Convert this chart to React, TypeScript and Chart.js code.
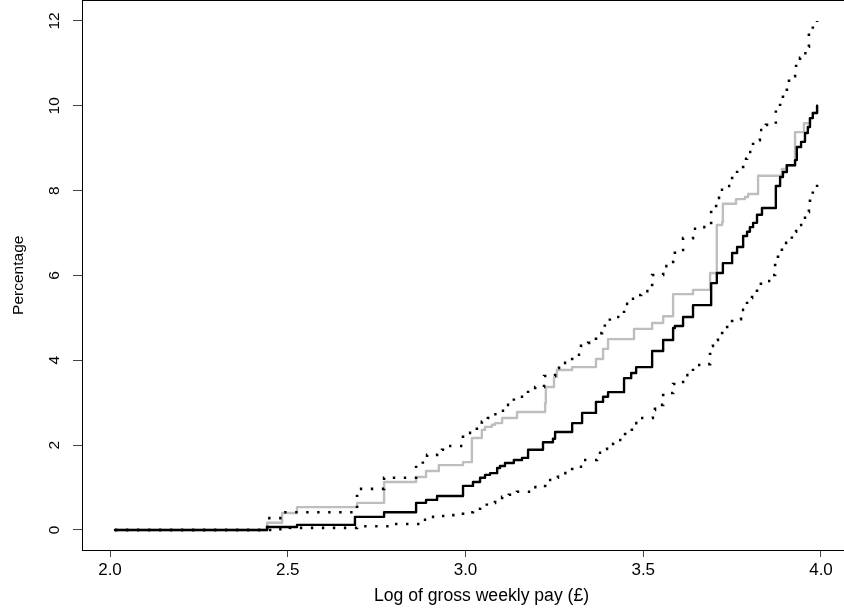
import React, { useEffect, useRef } from "react";
import { Chart, registerables } from "chart.js";

Chart.register(...registerables);

// Axis ticks
const xTicks = [2.0, 2.5, 3.0, 3.5, 4.0];
const yTicks = [0, 2, 4, 6, 8, 10, 12];

// Main estimate (black step line): x where the step occurs, y after the step
const estimateX = [2.014, 2.442, 2.526, 2.689, 2.771, 2.861, 2.889, 2.92, 2.993, 3.021, 3.041, 3.055, 3.069, 3.089, 3.097, 3.111, 3.136, 3.159, 3.176, 3.218, 3.246, 3.252, 3.3, 3.328, 3.367, 3.387, 3.401, 3.446, 3.466, 3.48, 3.525, 3.556, 3.584, 3.589, 3.612, 3.64, 3.691, 3.707, 3.724, 3.75, 3.764, 3.781, 3.792, 3.8, 3.809, 3.82, 3.834, 3.873, 3.885, 3.893, 3.904, 3.927, 3.932, 3.944, 3.955, 3.963, 3.969, 3.977, 3.989];
const estimateY = [0, 0.07, 0.12, 0.31, 0.42, 0.64, 0.71, 0.8, 1.04, 1.13, 1.23, 1.3, 1.34, 1.46, 1.51, 1.58, 1.65, 1.7, 1.89, 2.07, 2.15, 2.31, 2.52, 2.76, 3.02, 3.14, 3.25, 3.58, 3.7, 3.84, 4.22, 4.48, 4.76, 4.81, 5.02, 5.3, 5.82, 6.06, 6.29, 6.53, 6.67, 6.93, 7.03, 7.14, 7.24, 7.43, 7.59, 8.11, 8.32, 8.44, 8.6, 8.72, 9.03, 9.15, 9.36, 9.5, 9.71, 9.83, 10.0];

// Comparison series (grey step line)
const compareX = [2.014, 2.442, 2.484, 2.526, 2.695, 2.771, 2.861, 2.889, 2.925, 2.993, 3.018, 3.046, 3.055, 3.074, 3.083, 3.103, 3.145, 3.224, 3.226, 3.249, 3.257, 3.3, 3.367, 3.387, 3.401, 3.474, 3.525, 3.556, 3.584, 3.64, 3.688, 3.707, 3.722, 3.724, 3.761, 3.786, 3.795, 3.823, 3.89, 3.902, 3.927, 3.952, 3.969, 3.977, 3.989];
const compareY = [0, 0.17, 0.4, 0.54, 0.64, 1.13, 1.25, 1.39, 1.53, 1.6, 2.17, 2.36, 2.43, 2.48, 2.52, 2.64, 2.78, 2.99, 3.37, 3.61, 3.77, 3.84, 4.03, 4.27, 4.5, 4.74, 4.88, 5.04, 5.56, 5.66, 6.06, 7.19, 7.26, 7.69, 7.8, 7.85, 7.92, 8.35, 8.51, 8.6, 9.38, 9.59, 9.71, 9.83, 10.0];

// Upper confidence band (dotted)
const upperX = [2.014, 2.442, 2.487, 2.695, 2.771, 2.861, 2.88, 2.892, 2.92, 2.934, 2.951, 2.993, 3.032, 3.046, 3.063, 3.08, 3.097, 3.111, 3.136, 3.176, 3.196, 3.221, 3.252, 3.263, 3.3, 3.325, 3.345, 3.367, 3.384, 3.392, 3.406, 3.446, 3.463, 3.477, 3.494, 3.525, 3.556, 3.575, 3.584, 3.589, 3.612, 3.64, 3.662, 3.691, 3.705, 3.713, 3.727, 3.75, 3.764, 3.781, 3.792, 3.809, 3.828, 3.845, 3.873, 3.885, 3.893, 3.904, 3.91, 3.927, 3.93, 3.941, 3.949, 3.961, 3.966, 3.977, 3.989];
const upperY = [0, 0.28, 0.42, 0.97, 1.23, 1.53, 1.63, 1.77, 1.82, 1.89, 1.98, 2.29, 2.43, 2.55, 2.64, 2.73, 2.81, 2.95, 3.14, 3.3, 3.37, 3.63, 3.82, 3.94, 4.13, 4.34, 4.41, 4.64, 4.76, 4.88, 5.02, 5.33, 5.45, 5.54, 5.63, 6.01, 6.22, 6.32, 6.44, 6.6, 6.88, 7.1, 7.14, 7.57, 7.83, 8.02, 8.11, 8.37, 8.51, 8.75, 8.91, 9.19, 9.43, 9.55, 9.97, 10.11, 10.28, 10.54, 10.7, 10.8, 11.01, 11.13, 11.24, 11.39, 11.74, 11.88, 12.0];

// Lower confidence band (dotted)
const lowerX = [2.014, 2.473, 2.506, 2.695, 2.796, 2.872, 2.897, 2.923, 2.951, 2.993, 3.021, 3.041, 3.06, 3.083, 3.103, 3.122, 3.145, 3.187, 3.224, 3.246, 3.26, 3.3, 3.33, 3.37, 3.387, 3.398, 3.415, 3.449, 3.468, 3.477, 3.491, 3.527, 3.533, 3.556, 3.584, 3.606, 3.612, 3.64, 3.665, 3.688, 3.696, 3.71, 3.722, 3.736, 3.75, 3.775, 3.792, 3.806, 3.82, 3.831, 3.862, 3.871, 3.879, 3.89, 3.902, 3.918, 3.93, 3.944, 3.955, 3.966, 3.969, 3.977, 3.989];
const lowerY = [0, 0.02, 0.05, 0.09, 0.14, 0.24, 0.31, 0.33, 0.35, 0.42, 0.5, 0.54, 0.64, 0.66, 0.78, 0.83, 0.9, 1.01, 1.18, 1.23, 1.34, 1.49, 1.65, 1.82, 1.91, 2.03, 2.12, 2.31, 2.4, 2.52, 2.64, 2.83, 2.95, 3.23, 3.44, 3.49, 3.65, 3.89, 3.91, 4.34, 4.48, 4.6, 4.71, 4.83, 4.97, 5.19, 5.47, 5.59, 5.7, 5.87, 6.01, 6.34, 6.53, 6.67, 6.77, 7.03, 7.19, 7.36, 7.5, 7.71, 7.9, 8.06, 8.18];

const zip = (xs: number[], ys: number[]) => xs.map((x, i) => ({ x, y: ys[i] }));

const FONT = "'Liberation Sans', Arial, Helvetica, sans-serif";

const framePlugin = {
  id: "frame",
  afterDraw(chart: any) {
    const { ctx, chartArea: a } = chart;
    ctx.save();
    ctx.strokeStyle = "#000";
    ctx.lineWidth = 1;
    const l = Math.floor(a.left) + 0.5;
    const t = Math.floor(a.top) + 0.5;
    const r = Math.floor(a.right) + 0.5;
    const b = Math.floor(a.bottom) + 0.5;
    ctx.strokeRect(l, t, r - l, b - t);
    ctx.restore();
  },
};

export default function App() {
  const ref = useRef<HTMLCanvasElement | null>(null);

  useEffect(() => {
    if (!ref.current) return;
    const chart = new Chart(ref.current, {
      type: "line",
      data: {
        datasets: [
          {
            label: "Comparison",
            data: zip(compareX, compareY),
            borderColor: "#bebebe",
            borderWidth: 2.4,
            stepped: "before",
            pointRadius: 0,
            borderCapStyle: "round",
            borderJoinStyle: "round",
            order: 3,
          },
          {
            label: "Estimate",
            data: zip(estimateX, estimateY),
            borderColor: "#000",
            borderWidth: 2.4,
            stepped: "before",
            pointRadius: 0,
            borderCapStyle: "round",
            borderJoinStyle: "round",
            order: 2,
          },
          {
            label: "Upper",
            data: zip(upperX, upperY),
            borderColor: "#000",
            borderWidth: 2.6,
            borderDash: [2.4, 8.6],
            stepped: "before",
            pointRadius: 0,
            order: 1,
          },
          {
            label: "Lower",
            data: zip(lowerX, lowerY),
            borderColor: "#000",
            borderWidth: 2.6,
            borderDash: [2.4, 8.6],
            stepped: "before",
            pointRadius: 0,
            order: 1,
          },
        ],
      },
      options: {
        animation: false,
        responsive: false,
        maintainAspectRatio: false,
        devicePixelRatio: 1,
        layout: { padding: { top: 0.5, right: 3, bottom: 0, left: 0 } },
        plugins: {
          legend: { display: false },
          tooltip: { enabled: false },
        },
        scales: {
          x: {
            type: "linear",
            min: 1.9212,
            max: 4.1688,
            afterBuildTicks: (s: any) => {
              s.ticks = xTicks.map((v) => ({ value: v }));
            },
            afterFit: (s: any) => {
              s.height = 59;
              s.paddingLeft = 0;
              s.paddingRight = 0;
            },
            border: { display: false },
            grid: {
              drawOnChartArea: false,
              drawTicks: true,
              tickLength: 7,
              tickColor: "#444",
              lineWidth: 1,
            },
            ticks: {
              padding: 3,
              color: "#000",
              maxRotation: 0,
              minRotation: 0,
              font: { family: FONT, size: 17 },
              callback: (v: any) => Number(v).toFixed(1),
            },
            title: {
              display: true,
              text: "Log of gross weekly pay (£)",
              color: "#000",
              font: { family: FONT, size: 17.6 },
              padding: { top: 0, bottom: 2 },
            },
          },
          y: {
            type: "linear",
            min: -0.4715,
            max: 12.482,
            afterBuildTicks: (s: any) => {
              s.ticks = yTicks.map((v) => ({ value: v }));
            },
            afterFit: (s: any) => {
              s.width = 82;
              s.paddingTop = 0;
              s.paddingBottom = 0;
            },
            border: { display: false },
            grid: {
              drawOnChartArea: false,
              drawTicks: true,
              tickLength: 9,
              tickColor: "#444",
              lineWidth: 1,
            },
            ticks: {
              padding: 10,
              color: "#000",
              minRotation: 90,
              maxRotation: 90,
              crossAlign: "center",
              font: { family: FONT, size: 15.5 },
              callback: (v: any) => String(v),
            },
            title: {
              display: true,
              text: "Percentage",
              color: "#000",
              font: { family: FONT, size: 15.5 },
              padding: { top: 9, bottom: 0 },
            },
          },
        },
      },
      plugins: [framePlugin],
    } as any);
    return () => chart.destroy();
  }, []);

  return (
    <div
      style={{
        position: "absolute",
        left: 0,
        top: 0,
        width: 844,
        height: 609,
        overflow: "hidden",
        background: "#fff",
      }}
    >
      <canvas ref={ref} width={884} height={609} style={{ width: 884, height: 609, display: "block" }} />
    </div>
  );
}
